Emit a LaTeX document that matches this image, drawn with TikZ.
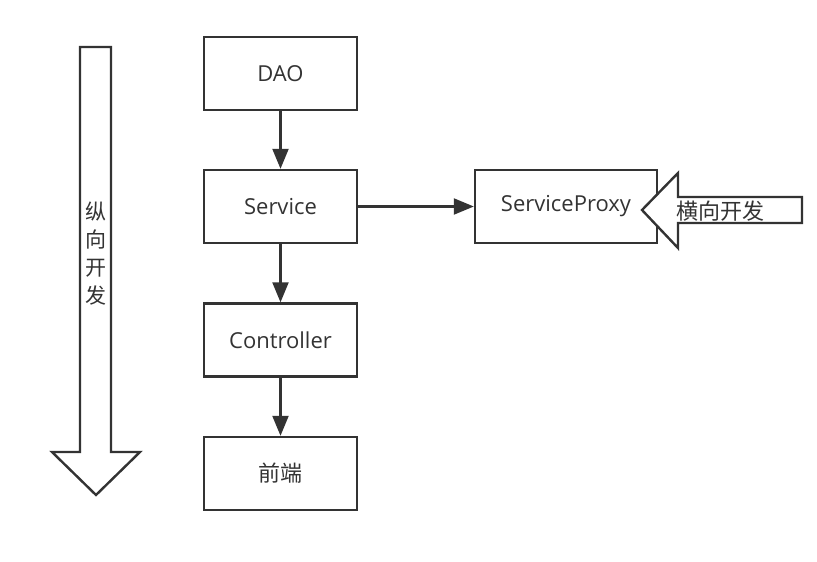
\documentclass[tikz,border=0pt]{standalone}
\usepackage{fontspec}
\setmainfont{Open Sans}
\newfontfamily\cjk{Noto Sans CJK SC}
\usetikzlibrary{arrows.meta}
\definecolor{ink}{HTML}{333333}
\tikzset{
  box/.style={draw=ink, line width=2.4pt, minimum width=153pt, minimum height=73pt, inner sep=0pt, text=ink, font=\fontsize{22}{26}\selectfont},
  conn/.style={draw=ink, line width=2.2pt, -{Triangle[width=16pt,length=20pt]}},
  bigarrow/.style={draw=ink, line width=2.4pt, fill=white, line join=miter},
  lbl/.style={text=ink, font=\cjk\fontsize{22}{26}\selectfont, inner sep=0pt}
}
\begin{document}
\begin{tikzpicture}[x=1pt,y=-1pt]
\useasboundingbox (0,0) rectangle (817,562);
% vertical big arrow
\draw[bigarrow] (80,47) -- (111,47) -- (111,452) -- (140,452) -- (96,495) -- (52,452) -- (80,452) -- cycle;
\node[lbl, align=center, font=\cjk\fontsize{21}{28}\selectfont] (vlabel) at (96,254) {纵\\向\\开\\发};
% boxes
\node[box] (dao) at (280.5,73.5) {DAO};
\node[box] (svc) at (280.5,206.5) {Service};
\node[box] (ctl) at (280.5,340) {Controller};
\node[box] (fe) at (280.5,473.5) {\cjk 前端};
\node[box, minimum width=182pt] (proxy) at (566,206.5) {ServiceProxy};
% connectors
\draw[conn] (dao) -- (svc);
\draw[conn] (svc) -- (ctl);
\draw[conn] (ctl) -- (fe);
\draw[conn] (svc) -- (proxy);
% horizontal big arrow
\draw[bigarrow] (802,197) -- (802,223) -- (678,223) -- (678,248) -- (642,210) -- (678,173) -- (678,197) -- cycle;
\node[lbl] (hlabel) at (720,211) {横向开发};
\end{tikzpicture}
\end{document}
